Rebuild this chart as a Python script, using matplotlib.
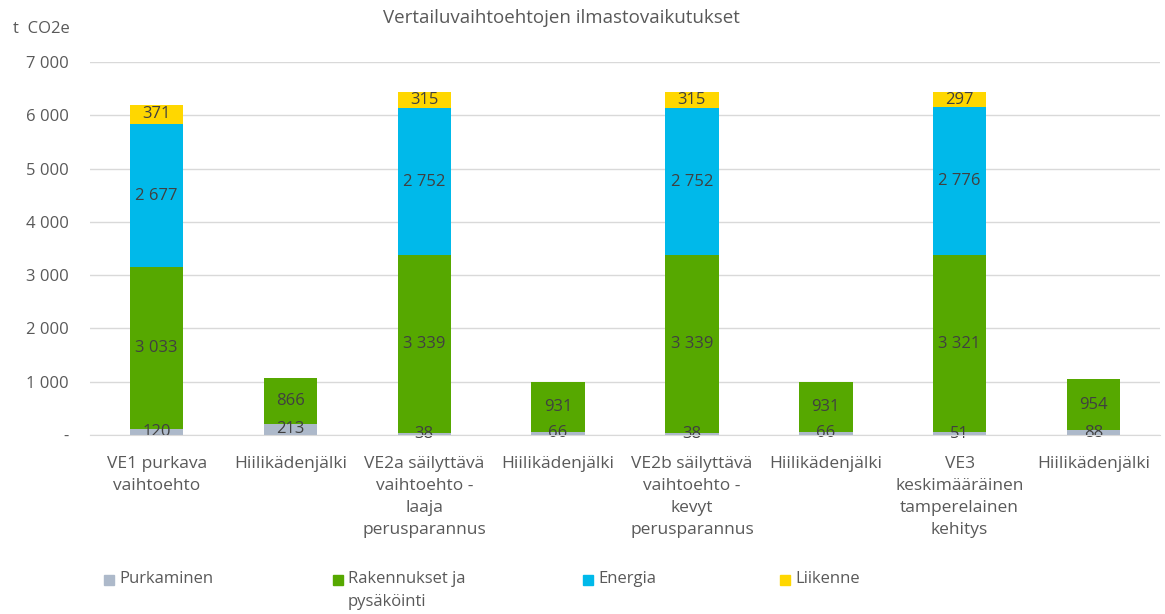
import matplotlib
matplotlib.use("Agg")
import matplotlib.pyplot as plt
from matplotlib.patches import Rectangle
import numpy as np

categories = ["VE1 purkava\nvaihtoehto", "Hiilikädenjälki",
              "VE2a säilyttävä\nvaihtoehto -\nlaaja\nperusparannus", "Hiilikädenjälki",
              "VE2b säilyttävä\nvaihtoehto -\nkevyt\nperusparannus", "Hiilikädenjälki",
              "VE3\nkeskimääräinen\ntamperelainen\nkehitys", "Hiilikädenjälki"]
purkaminen = [120, 213, 38, 66, 38, 66, 51, 88]
rakennukset = [3033, 866, 3339, 931, 3339, 931, 3321, 954]
energia = [2677, 0, 2752, 0, 2752, 0, 2776, 0]
liikenne = [371, 0, 315, 0, 315, 0, 297, 0]
series_names = ["Purkaminen", "Rakennukset ja\npysäköinti", "Energia", "Liikenne"]
colors = ["#ADB9CA", "#56A800", "#00B9EA", "#FFD700"]
yticks = [0, 1000, 2000, 3000, 4000, 5000, 6000, 7000]

plt.rcParams['font.family'] = ['Open Sans', 'DejaVu Sans']
txt = "#595959"
lab = "#404040"

W, H = 1165, 614
fig = plt.figure(figsize=(W / 100, H / 100), dpi=100)
ax = fig.add_axes([0.077, 0.2915, 0.919, 0.6075])

x = np.arange(len(categories))
bottom = np.zeros(len(categories))
for vals, c, name in zip([purkaminen, rakennukset, energia, liikenne], colors, series_names):
    v = np.array(vals, dtype=float)
    ax.bar(x, v, 0.4, bottom=bottom, color=c, label=name, zorder=3)
    for xi, vi, bi in zip(x, v, bottom):
        if vi > 0:
            s = f"{int(vi):,}".replace(",", " ")
            ax.text(xi, bi + vi / 2, s, ha="center", va="center", fontsize=12, color=lab, zorder=4)
    bottom += v

ax.set_xlim(-0.5, len(categories) - 0.5)
ax.set_ylim(0, 7000)
ax.set_yticks(yticks)
ax.set_yticklabels(["-" if t == 0 else f"{t:,}".replace(",", " ") for t in yticks],
                   fontsize=12, color=txt)
ax.set_xticks(x)
ax.set_xticklabels(categories, fontsize=12.5, color=txt, linespacing=1.5)
ax.tick_params(axis="x", length=0, pad=15)
ax.tick_params(axis="y", length=0, pad=15)
ax.grid(axis="y", color="#D9D9D9", linewidth=1, zorder=0)
for s in ["top", "right", "left"]:
    ax.spines[s].set_visible(False)
ax.spines["bottom"].set_color("#D9D9D9")
ax.spines["bottom"].set_zorder(5)

fig.text(0.482, 0.97, "Vertailuvaihtoehtojen ilmastovaikutukset", ha="center", va="center",
         fontsize=13.5, color=txt)
fig.text(0.011, 0.953, "t  CO2e", ha="left", va="center", fontsize=12, color=txt)

# legend (manual layout, Excel-like)
leg_x = [104, 333, 583, 780]
leg_y = 580
for lx, c, name in zip(leg_x, colors, series_names):
    fig.patches.append(Rectangle(((lx) / W, 1 - (leg_y + 5) / H), 10 / W, 10 / H,
                                 transform=fig.transFigure, color=c))
    fig.text((lx + 15) / W, 1 - (leg_y - 9) / H, name, ha="left", va="top",
             fontsize=12, color=txt, linespacing=1.6)

fig.savefig("out.png", dpi=100)
